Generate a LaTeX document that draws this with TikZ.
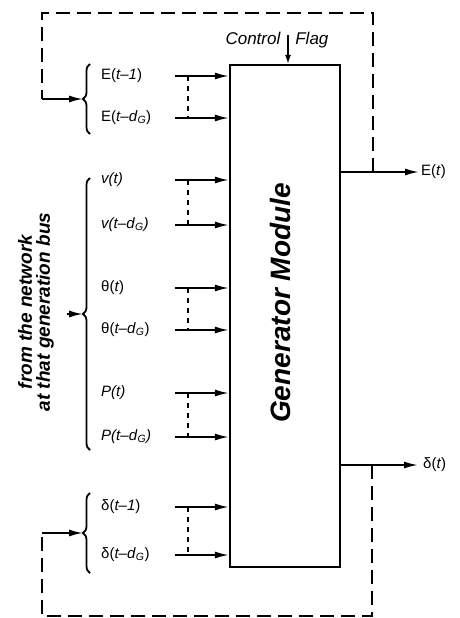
\documentclass[tikz,border=0pt]{standalone}
\usepackage{fontspec}
\setmainfont{Liberation Sans}
\usetikzlibrary{arrows.meta, decorations.pathreplacing}

\newcommand{\dG}{\textit{d}\textsubscript{\textit{G}}}

\begin{document}
\begin{tikzpicture}[x=1pt, y=-1pt,
  lbl/.style={anchor=west, inner sep=2pt, text height=10pt, text depth=3pt, font=\fontsize{15}{17}\selectfont},
  genbox/.style={draw, line width=2.2pt, minimum width=110pt, minimum height=502pt, inner sep=0pt},
  inarrow/.style={-{Latex[length=14pt, width=7pt]}, line width=1.8pt},
  feedback/.style={line width=2.2pt, dash pattern=on 14pt off 7pt},
  dotline/.style={line width=1.8pt, dash pattern=on 5pt off 5pt},
  curly/.style={decorate, decoration={brace, amplitude=7pt}, line width=1.8pt}
]
  \useasboundingbox (0,0) rectangle (459,618);

  \node[genbox] (gen) at (285,316) {};
  \node[rotate=90, font=\fontsize{28}{30}\selectfont\bfseries\itshape] (genlbl) at (280,303) {Generator Module};

  % control input on top
  \node[font=\fontsize{17}{19}\selectfont\itshape] (ctrl) at (277,40) {Control\hspace{15pt}Flag};
  \coordinate (cf) at (288,35);
  \draw[-{Latex[length=9pt, width=6pt]}, line width=1.4pt] (cf) -- (cf |- gen.north);

  % delayed inputs
  \node[lbl] (e1) at (99,76) {E(\textit{t--1})};
  \node[lbl] (e2) at (99,118) {E(\textit{t--}\dG)};
  \node[lbl] (v1) at (99,180) {\textit{v(t)}};
  \node[lbl] (v2) at (99,225) {\textit{v(t--}\dG\textit{)}};
  \node[lbl] (th1) at (99,288) {θ(\textit{t})};
  \node[lbl] (th2) at (99,330) {θ(\textit{t--}\dG)};
  \node[lbl] (p1) at (99,393) {\textit{P(t)}};
  \node[lbl] (p2) at (99,437) {\textit{P(t--}\dG\textit{)}};
  \node[lbl] (d1) at (99,507) {δ(\textit{t--1})};
  \node[lbl] (d2) at (99,555) {δ(\textit{t--}\dG)};

  \coordinate (xin) at (175,0);
  \coordinate (xdot) at (188,0);
  \foreach \n in {e1,e2,v1,v2,th1,th2,p1,p2,d1,d2}
    \draw[inarrow] (\n -| xin) -- (\n -| gen.west);
  \foreach \a/\b in {e1/e2,v1/v2,th1/th2,p1/p2,d1/d2}
    \draw[dotline] (\a -| xdot) -- (\b -| xdot);

  % braces
  \draw[curly] (90,134) -- (90,64);
  \draw[curly] (90,450) -- (90,178);
  \draw[curly] (90,573) -- (90,493);
  \coordinate (tipE) at (83,99);
  \coordinate (tipN) at (83,314);
  \coordinate (tipD) at (83,533);

  \node[rotate=90, align=center, font=\fontsize{19}{18}\selectfont\bfseries\itshape] (src) at (36,312) {from the network\\at that generation bus};
  \coordinate (srcend) at (67,314);
  \draw[inarrow] (srcend) -- (tipN);

  % outputs
  \node[lbl] (eout) at (419,172) {E(\textit{t})};
  \node[lbl] (dout) at (421,465) {δ(\textit{t})};
  \draw[inarrow] (eout -| gen.east) -- (eout.west);
  \draw[inarrow, shorten >=3pt] (dout -| gen.east) -- (dout.west);

  % feedback loops
  \coordinate (fbE) at (373,172);
  \coordinate (fbD) at (372,465);
  \coordinate (lE) at (42,99);
  \coordinate (lD) at (42,533);
  \draw[feedback] (fbE) -- (373,13) -- (42,13) -- (lE);
  \draw[inarrow] (lE) -- (tipE);
  \draw[feedback] (fbD) -- (372,616) -- (42,616) -- (lD);
  \draw[inarrow] (lD) -- (tipD);
\end{tikzpicture}
\end{document}
